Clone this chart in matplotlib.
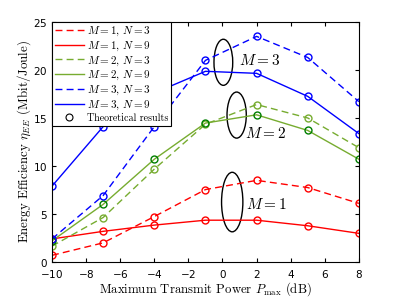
import matplotlib
matplotlib.use('Agg')
import matplotlib.pyplot as plt
from matplotlib.patches import Ellipse
from matplotlib.lines import Line2D

matplotlib.rcParams['mathtext.fontset'] = 'cm'
matplotlib.rcParams['font.family'] = 'serif'
matplotlib.rcParams['font.serif'] = ['cmr10']
matplotlib.rcParams['axes.formatter.use_mathtext'] = True

# 数据
p_max = [-10, -7, -4, -1, 2, 5, 8]
ee_m1_n3 = [0.69, 1.99, 4.73, 7.54, 8.5, 7.75, 6.1]
ee_m1_n9 = [2.4, 3.19, 3.84, 4.35, 4.35, 3.77, 2.98]
ee_m2_n3 = [1.65, 4.63, 9.67, 14.35, 16.4, 15.0, 11.9]
ee_m2_n9 = [2.2, 6.0, 10.7, 14.47, 15.33, 13.7, 10.7]
ee_m3_n3 = [2.4, 6.92, 14.1, 21.0, 23.5, 21.3, 16.7]
ee_m3_n9 = [7.9, 14.1, 17.6, 19.86, 19.65, 17.25, 13.37]

xticks = [-10, -8, -6, -4, -2, 0, 2, 4, 6, 8]
yticks = [0, 5, 10, 15, 20, 25]

green = '#77AC30'
dark_green = '#007F00'
dash = (0, (5, 3))

fig = plt.figure(figsize=(3.97, 2.97), dpi=100)
ax = fig.add_axes([0.131, 0.118, 0.773, 0.808])

series = [
    (ee_m1_n3, 'red', dash, 'red', r'$M=1,\,N=3$'),
    (ee_m1_n9, 'red', '-', 'red', r'$M=1,\,N=9$'),
    (ee_m2_n3, green, dash, green, r'$M=2,\,N=3$'),
    (ee_m2_n9, green, '-', dark_green, r'$M=2,\,N=9$'),
    (ee_m3_n3, 'blue', dash, 'blue', r'$M=3,\,N=3$'),
    (ee_m3_n9, 'blue', '-', 'blue', r'$M=3,\,N=9$'),
]

handles = []
for vals, c, ls, mc, lab in series:
    ax.plot(p_max, vals, color=c, linestyle=ls, linewidth=1.0)
    ax.plot(p_max, vals, linestyle='none', marker='o', markersize=5,
            markerfacecolor='none', markeredgecolor=mc, markeredgewidth=1.0)
    handles.append(Line2D([], [], color=c, linestyle=ls, linewidth=1.0, label=lab))
handles.append(Line2D([], [], linestyle='none', marker='o', markersize=5,
                      markerfacecolor='none', markeredgecolor='black',
                      markeredgewidth=0.8, label='Theoretical results'))

# 椭圆标注
for cx, cy, w, h in [(0.05, 20.8, 1.1, 4.8), (0.83, 15.3, 1.13, 4.8), (0.57, 6.24, 1.25, 6.2)]:
    ax.add_patch(Ellipse((cx, cy), w, h, fill=False, edgecolor='black', linewidth=1.0))
ax.text(0.98, 21.0, r'$M=3$', fontsize=11, va='center')
ax.text(1.32, 13.4, r'$M=2$', fontsize=11, va='center')
ax.text(1.38, 6.0, r'$M=1$', fontsize=11, va='center')

ax.set_xlim(-10, 8)
ax.set_ylim(0, 25)
ax.set_xticks(xticks)
ax.set_yticks(yticks)
ax.tick_params(direction='in', top=True, right=True, labelsize=7.5, length=3)
ax.tick_params(axis='x', pad=4)
ax.tick_params(axis='y', pad=3)
for lbl in ax.get_xticklabels() + ax.get_yticklabels():
    lbl.set_family('DejaVu Sans')
ax.set_xlabel(r'Maximum Transmit Power $P_{\max}$ (dB)', fontsize=9.2, labelpad=0.5)
ax.set_ylabel(r'Energy Efficiency $\eta_{EE}$ (Mbit/Joule)', fontsize=9.3, labelpad=0.5)

leg = ax.legend(handles=handles, loc='upper left', fontsize=8, handlelength=2.6,
                borderaxespad=0, fancybox=False, framealpha=1, edgecolor='black',
                labelspacing=0.12, borderpad=0.25, handletextpad=0.3)
leg.get_frame().set_linewidth(0.8)
leg.get_texts()[-1].set_fontsize(7.2)

fig.savefig('out.png', dpi=100)
